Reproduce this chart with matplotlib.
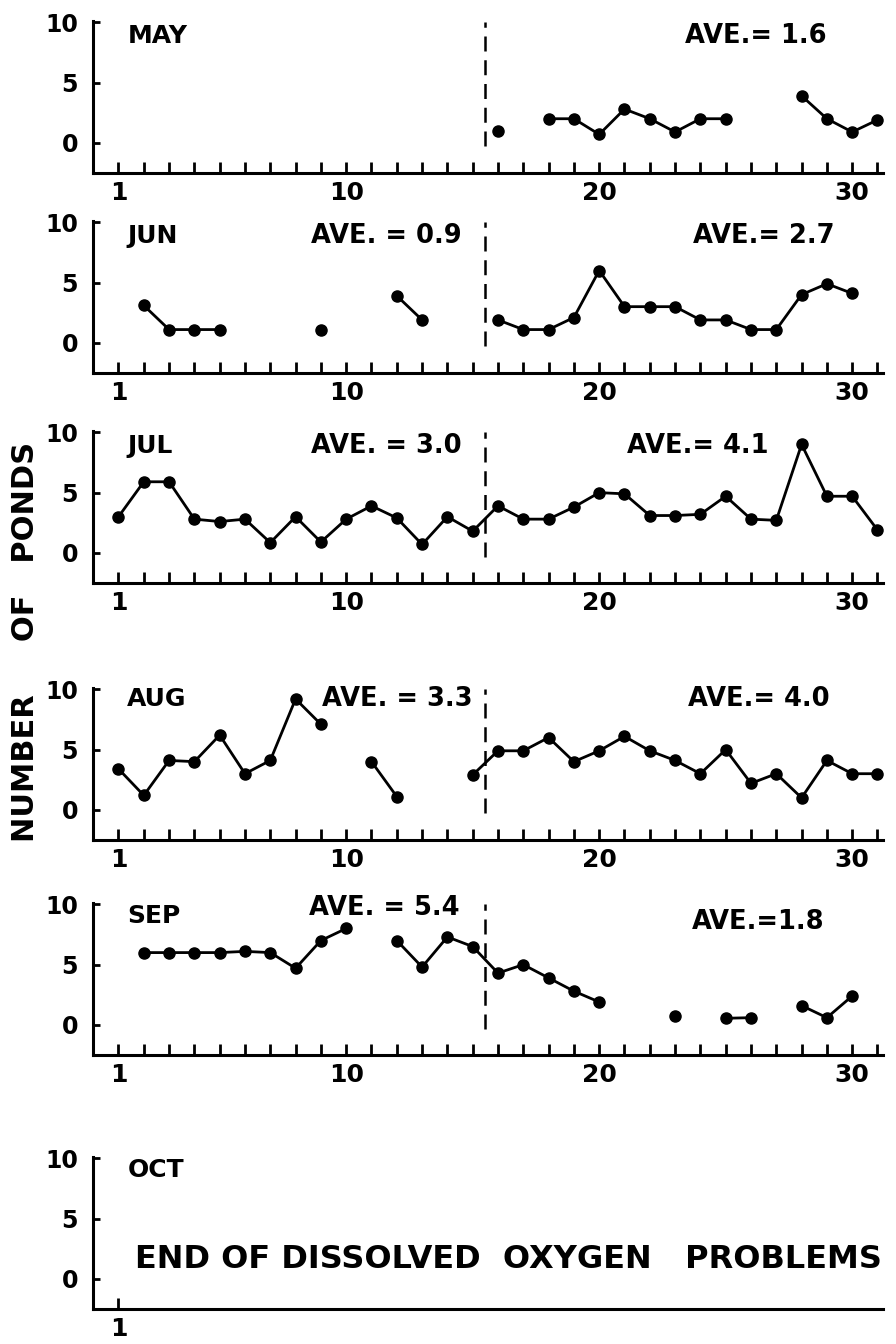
import numpy as np
import matplotlib
matplotlib.use("Agg")
import matplotlib.pyplot as plt

plt.rcParams['font.family'] = ['DejaVu Sans']
plt.rcParams['font.weight'] = 'bold'

# days shown on each panel
days = list(range(1, 32))

# number of ponds per day (None = no observation)
may = [None] * 15 + [1.0, None, 2.0, 2.0, 0.7, 2.8, 2.0, 0.9, 2.0, 2.0,
                     None, None, 3.9, 2.0, 0.9, 1.9]
jun = [None, 3.1, 1.1, 1.1, 1.1, None, None, None, 1.1, None,
       None, 3.9, 1.9, None, None, 1.9, 1.1, 1.1, 2.1, 6.0,
       3.0, 3.0, 3.0, 1.9, 1.9, 1.1, 1.1, 4.0, 4.9, 4.1, None]
jul = [3.0, 5.9, 5.9, 2.8, 2.6, 2.8, 0.85, 3.0, 0.9, 2.8,
       3.9, 2.9, 0.7, 3.0, 1.8, 3.9, 2.8, 2.8, 3.8, 5.0,
       4.9, 3.1, 3.1, 3.2, 4.7, 2.8, 2.7, 9.0, 4.7, 4.7, 1.9]
aug = [3.4, 1.2, 4.1, 4.0, 6.2, 3.0, 4.1, 9.2, 7.1, None,
       4.0, 1.1, None, None, 2.9, 4.9, 4.9, 6.0, 4.0, 4.9,
       6.1, 4.9, 4.1, 3.0, 5.0, 2.2, 3.0, 1.0, 4.1, 3.0, 3.0]
sep = [None, 6.0, 6.0, 6.0, 6.0, 6.1, 6.0, 4.7, 7.0, 8.0,
       None, 7.0, 4.8, 7.3, 6.5, 4.3, 5.0, 3.9, 2.8, 1.9,
       None, None, 0.75, None, 0.55, 0.6, None, 1.6, 0.6, 2.4, None]

months = ['MAY', 'JUN', 'JUL', 'AUG', 'SEP', 'OCT']
series = [may, jun, jul, aug, sep, None]

# averages for first / second half of month (None = not printed)
ave_first = [None, 'AVE. = 0.9', 'AVE. = 3.0', 'AVE. = 3.3', 'AVE. = 5.4', None]
ave_second = ['AVE.= 1.6', 'AVE.= 2.7', 'AVE.= 4.1', 'AVE.= 4.0', 'AVE.=1.8', None]

mid_month = 15.5
yticks = [0, 5, 10]
xlabels = {1: '1', 10: '10', 20: '20', 30: '30'}

# text placement (day, value)
month_xy = [(1.35, 8.9), (1.35, 8.85), (1.35, 8.85), (1.35, 9.2), (1.35, 9.0), (1.35, 9.0)]
first_xy = [None, (11.6, 8.85), (11.6, 8.85), (12.0, 9.2), (11.5, 9.7), None]
second_xy = [(26.2, 8.9), (26.5, 8.85), (23.9, 8.85), (26.3, 9.2), (26.3, 8.5), None]

fig = plt.figure(figsize=(8.96, 13.44), dpi=100)

bottoms = [0.8713, 0.7225, 0.5662, 0.375, 0.215, 0.026]
height = 0.113
left, width = 0.104, 0.881

for i, name in enumerate(months):
    ax = fig.add_axes([left, bottoms[i], width, height])
    ax.set_xlim(0, 31.2)
    ax.set_ylim(-2.5, 10.1)
    for s in ['top', 'right']:
        ax.spines[s].set_visible(False)
    for s in ['left', 'bottom']:
        ax.spines[s].set_linewidth(2.2)
    ax.set_yticks(yticks)
    ax.set_yticklabels([str(v) for v in yticks], fontsize=17, fontweight='bold')
    ax.tick_params(axis='y', direction='in', length=5, width=2, pad=11)

    if series[i] is not None:
        ax.set_xticks(days)
        ax.set_xticklabels([xlabels.get(d, '') for d in days], fontsize=18, fontweight='bold')
        vals = np.array([np.nan if v is None else v for v in series[i]], dtype=float)
        ax.plot(days, vals, color='black', lw=2.0, marker='o', ms=8)
        ax.plot([mid_month, mid_month], [-0.3, 10.0], color='black', lw=1.8,
                dashes=[6, 3.5])
    else:
        ax.set_xticks([1])
        ax.set_xticklabels(['1'], fontsize=18, fontweight='bold')
        ax.text(1.65, 1.6, 'END OF DISSOLVED  OXYGEN   PROBLEMS', fontsize=23,
                fontweight='bold', ha='left', va='center')
    ax.tick_params(axis='x', direction='in', length=8, width=2, pad=6)

    mx, my = month_xy[i]
    ax.text(mx, my, name, fontsize=18, fontweight='bold', ha='left', va='center')
    if ave_first[i]:
        ax.text(*first_xy[i], ave_first[i], fontsize=18.5, fontweight='bold',
                ha='center', va='center')
    if ave_second[i]:
        ax.text(*second_xy[i], ave_second[i], fontsize=18.5, fontweight='bold',
                ha='center', va='center')

fig.text(0.028, 0.522, 'NUMBER     OF   PONDS', rotation=90, fontsize=22,
         fontweight='bold', ha='center', va='center')

fig.savefig('out.png', dpi=100)
